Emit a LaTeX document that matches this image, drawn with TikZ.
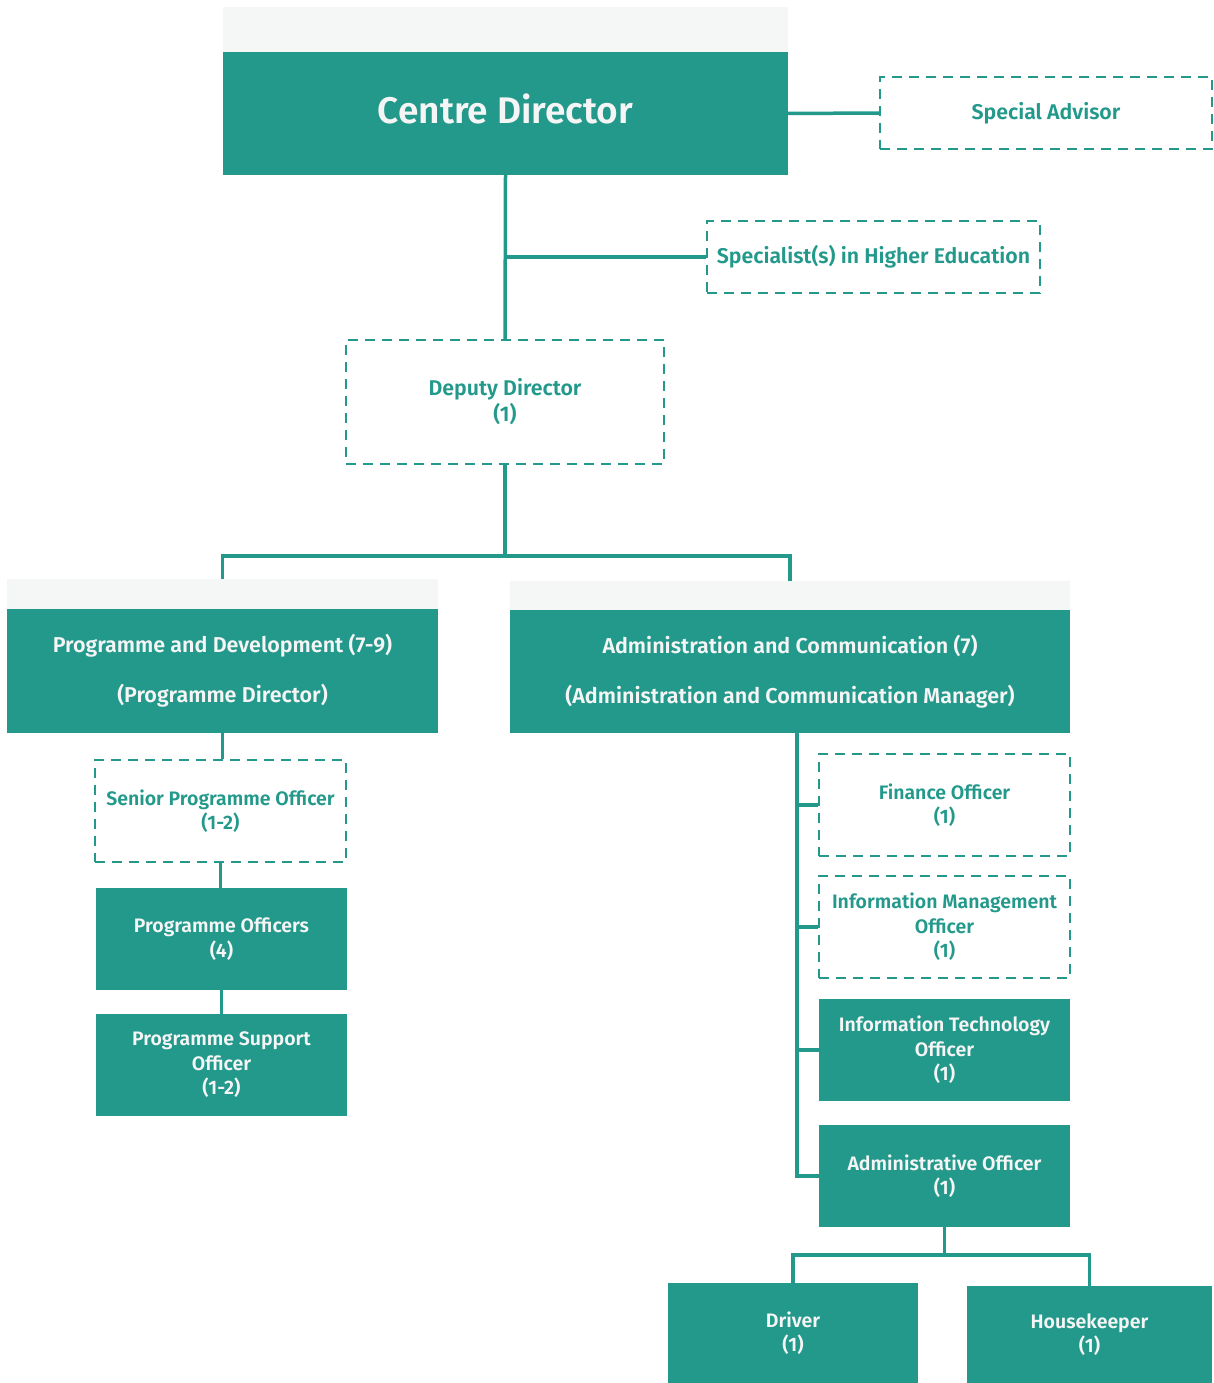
\documentclass[tikz,border=0pt]{standalone}
\usepackage{fontspec}
\setmainfont{Fira Sans SemiBold}
\definecolor{orgteal}{HTML}{22998B}
\definecolor{orgband}{HTML}{F5F6F6}
\definecolor{orgtext}{HTML}{F5F5F5}
\begin{document}
\begin{tikzpicture}[x=1pt,y=-1pt,
    solidbox/.style={fill=orgteal,text=orgtext,align=center,inner sep=0pt,font=\fontsize{19.5}{24.5}\selectfont},
    dashbox/.style={draw=orgteal,line width=2pt,dash pattern=on 10pt off 7pt,text=orgteal,align=center,inner sep=0pt,font=\fontsize{19.5}{24.5}\selectfont},
    topdash/.style={dashbox,font=\fontsize{21.3}{26}\selectfont},
    band/.style={fill=orgband,inner sep=0pt},
    link/.style={draw=orgteal,line width=3.5pt}]
                \useasboundingbox (0,0) rectangle (1213,1383);

                \node[band,minimum width=565,minimum height=45] (cdband) at (505.5,29.5) {};
                \node[solidbox,minimum width=565,minimum height=123,text depth=10pt,font=\fontsize{37}{44}\selectfont] (cd) at (505.5,113.5) {Centre Director};
                \node[topdash,minimum width=332,minimum height=72] (sa) at (1046,113) {Special Advisor};
                \node[topdash,minimum width=333,minimum height=72] (she) at (873.5,257) {Specialist(s) in Higher Education};
                \node[topdash,minimum width=318,minimum height=124] (dd) at (505,402) {Deputy Director\\(1)};

                \node[band,minimum width=431,minimum height=30] (pdband) at (222.5,594) {};
                \node[solidbox,minimum width=431,minimum height=124,font=\fontsize{21.5}{50}\selectfont] (pd) at (222.5,671) {Programme and Development (7-9)\\(Programme Director)};
                \node[band,minimum width=560,minimum height=29] (acband) at (790,595.5) {};
                \node[solidbox,minimum width=560,minimum height=123,font=\fontsize{21.5}{50}\selectfont] (ac) at (790,671.5) {Administration and Communication (7)\\(Administration and Communication Manager)};

                \node[dashbox,minimum width=251,minimum height=102] (spo) at (220.5,811) {Senior Programme Officer\\(1-2)};
                \node[solidbox,minimum width=251,minimum height=102] (po) at (221.5,939) {Programme Officers\\(4)};
                \node[solidbox,minimum width=251,minimum height=102] (pso) at (221.5,1065) {Programme Support\\Officer\\(1-2)};

                \node[dashbox,minimum width=251,minimum height=102] (fo) at (944.5,805) {Finance Officer\\(1)};
                \node[dashbox,minimum width=251,minimum height=102] (imo) at (944.5,927) {Information Management\\Officer\\(1)};
                \node[solidbox,minimum width=251,minimum height=102] (ito) at (944.5,1050) {Information Technology\\Officer\\(1)};
                \node[solidbox,minimum width=251,minimum height=102] (ao) at (944.5,1176) {Administrative Officer\\(1)};
                \node[solidbox,minimum width=250,minimum height=100] (dr) at (793,1333) {Driver\\(1)};
                \node[solidbox,minimum width=245,minimum height=97] (hk) at (1089.5,1334.5) {Housekeeper\\(1)};

                \coordinate (actrunk) at (797,733);

                \draw[link] (cd.south) -- (dd.north);
                \draw[link] (cd.east) -- (sa.west);
                \draw[link] (she.west) -- (she.west -| cd.south);
                \draw[link] (dd.south) -- ++(0,91) coordinate (ddsplit);
                \draw[link] (pdband.north) |- (ddsplit) -| (acband.north);
                \draw[link] (pd.south) -- (pd.south |- spo.north);
                \draw[link] (spo.south) -- (spo.south |- po.north);
                \draw[link] (po.south) -- (pso.north);
                \draw[link] (actrunk) |- (ao.west);
                \draw[link] (fo.west) -- (fo.west -| actrunk);
                \draw[link] (imo.west) -- (imo.west -| actrunk);
                \draw[link] (ito.west) -- (ito.west -| actrunk);
                \draw[link] (ao.south) -- ++(0,28) coordinate (aosplit);
                \draw[link] (dr.north) |- (aosplit) -| (hk.north);
            \end{tikzpicture}
\end{document}
